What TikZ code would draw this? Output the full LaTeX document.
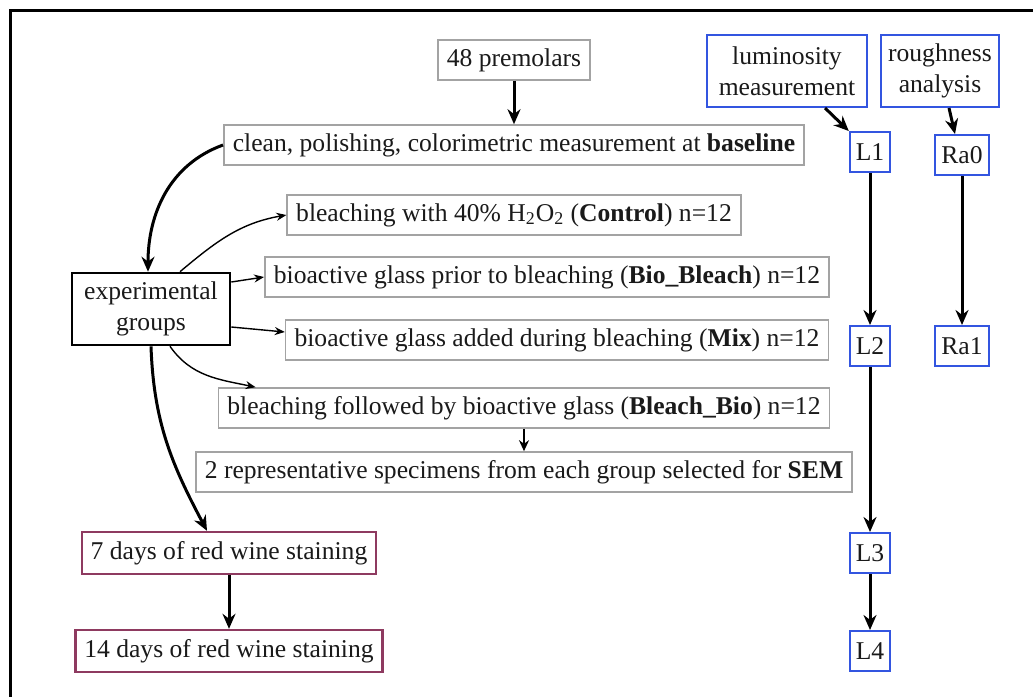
\documentclass[tikz,border=0pt]{standalone}
\usepackage{fontspec}
\setmainfont{Liberation Serif}
\usepackage{tikz}
\usetikzlibrary{arrows.meta,calc}
\definecolor{boxgray}{HTML}{A3A3A3}
\definecolor{measblue}{HTML}{3355E0}
\definecolor{winered}{HTML}{8E3A60}
\definecolor{ink}{HTML}{1A1A1A}

\begin{document}
\begin{tikzpicture}[x=0.5pt, y=-0.5pt, font=\fontsize{12.8}{15.5}\selectfont, text=ink,
  box/.style={draw=boxgray, line width=0.8pt, inner xsep=4.5pt, inner ysep=2pt,
              minimum height=20pt, fill=white},
  grp/.style={box, draw=black, line width=1.3pt, align=center, minimum width=79pt, minimum height=36pt},
  meas/.style={box, draw=measblue, line width=1pt, align=center, inner xsep=2pt, minimum height=36pt},
  lbox/.style={meas, minimum width=19pt, minimum height=20pt, inner xsep=3pt},
  wine/.style={box, draw=winered, line width=1.2pt, minimum height=21pt},
  flow/.style={-{Stealth[length=7.5pt,width=6.5pt]}, line width=1.5pt},
  nudge/.style={-{Stealth[length=5.5pt,width=5pt]}, line width=1pt},
  branch/.style={-{Stealth[length=5pt,width=4pt]}, line width=0.7pt}]
\useasboundingbox (0,0) rectangle (1033,697);
\draw[line width=1.5pt] (1033,10) -- (10,10) -- (10,697);
% sample preparation
\node[box]   (premolars) at (514,60)  {48 premolars};
\node[box]   (clean)     at (514,145) {clean, polishing, colorimetric measurement at \textbf{baseline}};
\node[grp]   (groups)    at (151,309) {experimental\\groups};
\node[box]   (control)   at (514,215) {bleaching with 40\% H\textsubscript{2}O\textsubscript{2} (\textbf{Control}) n=12};
\node[box]   (biobl)     at (547,277) {bioactive glass prior to bleaching (\textbf{Bio\_Bleach}) n=12};
\node[box]   (mix)       at (557,340) {bioactive glass added during bleaching (\textbf{Mix}) n=12};
\node[box]   (blbio)     at (524,408) {bleaching followed by bioactive glass (\textbf{Bleach\_Bio}) n=12};
\node[box]   (sem)       at (524,472) {2 representative specimens from each group selected for \textbf{SEM}};
\node[wine]  (wine7)     at (229,553) {7 days of red wine staining};
\node[wine]  (wine14)    at (229,651) {14 days of red wine staining};
% measurements
\node[meas, minimum width=80pt] (lum)   at (787,71) {luminosity\\measurement};
\node[meas, minimum width=59pt] (rough) at (940,71) {roughness\\analysis};
\node[lbox]  (L1)        at (870,152) {L1};
\node[lbox]  (L2)        at (870,346) {L2};
\node[lbox]  (L3)        at (870,553) {L3};
\node[lbox]  (L4)        at (870,651) {L4};
\node[lbox]  (Ra0)       at (962,155) {Ra0};
\node[lbox]  (Ra1)       at (962,346) {Ra1};

\draw[flow] (premolars.south) -- (premolars.south |- clean.north);
\draw[flow] (clean.west) to[out=200, in=90] ($(groups.north)+(-3,0)$);
\draw[branch] ($(groups.north)+(29,0)$) to[out=40, in=190] (control.west);
\draw[branch] ($(groups.east)+(0,-27)$) -- (biobl.west);
\draw[branch] ($(groups.east)+(0,18)$) -- ($(mix.west)+(0,-8)$);
\draw[branch] ($(groups.south)+(19,0)$) to[out=-55, in=168] ($(blbio.north west)+(38,0)$);
\draw[flow] (groups.south) to[out=-88, in=118] ($(wine7.north)+(-22,0)$);
\draw[nudge] (blbio) -- (sem);
\draw[flow] (wine7) -- (wine14);
\draw[flow] ($(lum.south)+(38,0)$) -- (L1.north west);
\draw[flow] ($(rough.south)+(9,0)$) -- ($(Ra0.north)+(-7,0)$);
\draw[flow] (L1) -- (L2);
\draw[flow] (L2) -- (L3);
\draw[flow] (L3) -- (L4);
\draw[flow] (Ra0) -- (Ra1);
\end{tikzpicture}
\end{document}
